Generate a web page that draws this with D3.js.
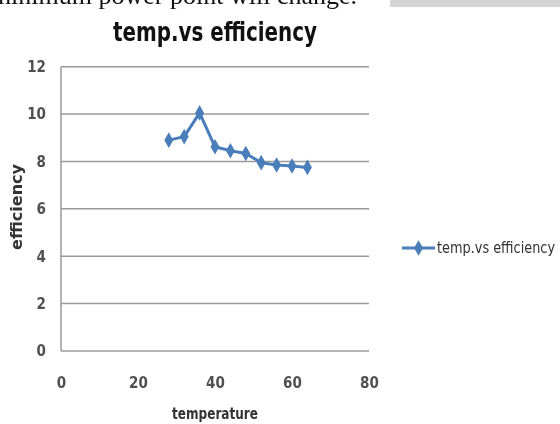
<!DOCTYPE html>
<html>
<head>
<meta charset="utf-8">
<script src="https://cdn.jsdelivr.net/npm/d3@7"></script>
<style>
  html, body { margin: 0; padding: 0; background: #fff; }
  svg { display: block; }
</style>
</head>
<body>
<svg id="chart" width="560" height="424"></svg>
<script>
// Temperature (°C) and efficiency (%) readings
const temperature = [28, 32, 36, 40, 44, 48, 52, 56, 60, 64];
const efficiency  = [8.9, 9.05, 10.05, 8.62, 8.45, 8.34, 7.95, 7.85, 7.81, 7.75];
const xTicks = [0, 20, 40, 60, 80];
const yTicks = [0, 2, 4, 6, 8, 10, 12];
const seriesName = "temp.vs efficiency";

const svg = d3.select("#chart");
const narrow = "'Liberation Sans Narrow', 'DejaVu Sans Condensed', 'Open Sans', sans-serif";

// Surrounding document text and toolbar strip
svg.append("rect").attr("x", 390).attr("y", 0).attr("width", 170).attr("height", 7).attr("fill", "#d4d4d4");
svg.append("text")
  .attr("x", 357).attr("y", 4)
  .attr("text-anchor", "end")
  .attr("font-family", "'Liberation Serif', 'DejaVu Serif', serif")
  .attr("font-size", 26)
  .attr("fill", "#111")
  .text("minimum power point will change.");

const x = d3.scaleLinear().domain([0, 80]).range([61, 369]);
const y = d3.scaleLinear().domain([0, 12]).range([351, 66.7]);

// Horizontal gridlines
svg.append("g")
  .selectAll("line")
  .data(yTicks)
  .join("line")
  .attr("x1", x(0)).attr("x2", x(80))
  .attr("y1", d => y(d)).attr("y2", d => y(d))
  .attr("stroke", "#9a9a9a").attr("stroke-width", 1.5);

// Y axis line
svg.append("line")
  .attr("x1", x(0)).attr("x2", x(0))
  .attr("y1", y(0)).attr("y2", y(12))
  .attr("stroke", "#9a9a9a").attr("stroke-width", 1.5);

// Y axis tick labels
const yAxis = d3.axisLeft(y).tickValues(yTicks).tickSize(0).tickPadding(15);
const gy = svg.append("g").attr("transform", `translate(${x(0)},0)`).call(yAxis);
gy.select(".domain").remove();
gy.selectAll("text")
  .attr("font-family", narrow).attr("font-size", 15).attr("font-weight", "bold").attr("fill", "#505050");

// X axis tick labels
const xAxis = d3.axisBottom(x).tickValues(xTicks).tickSize(0).tickPadding(26);
const gx = svg.append("g").attr("transform", `translate(0,${y(0)})`).call(xAxis);
gx.select(".domain").remove();
gx.selectAll("text")
  .attr("font-family", narrow).attr("font-size", 15).attr("font-weight", "bold").attr("fill", "#505050");

// Title
svg.append("text")
  .attr("x", 215).attr("y", 41)
  .attr("text-anchor", "middle")
  .attr("font-family", narrow).attr("font-size", 27).attr("font-weight", "bold").attr("fill", "#111")
  .attr("textLength", 204).attr("lengthAdjust", "spacingAndGlyphs")
  .text("temp.vs efficiency");

// Axis titles
svg.append("text")
  .attr("x", 215).attr("y", 419)
  .attr("text-anchor", "middle")
  .attr("font-family", narrow).attr("font-size", 15).attr("font-weight", "bold").attr("fill", "#333")
  .attr("textLength", 86).attr("lengthAdjust", "spacingAndGlyphs")
  .text("temperature");
svg.append("text")
  .attr("transform", "translate(22,207) rotate(-90)")
  .attr("text-anchor", "middle")
  .attr("font-family", narrow).attr("font-size", 15).attr("font-weight", "bold").attr("fill", "#333")
  .attr("textLength", 86).attr("lengthAdjust", "spacingAndGlyphs")
  .text("efficiency");

// Series line and diamond markers
const data = temperature.map((t, i) => ({ t, e: efficiency[i] }));
const blue = "#4a7ebb";
svg.append("path")
  .datum(data)
  .attr("fill", "none").attr("stroke", blue).attr("stroke-width", 3).attr("stroke-linejoin", "round")
  .attr("d", d3.line().x(d => x(d.t)).y(d => y(d.e)));
const diamond = d3.symbol().type(d3.symbolDiamond).size(70);
svg.append("g")
  .selectAll("path")
  .data(data)
  .join("path")
  .attr("transform", d => `translate(${x(d.t)},${y(d.e)})`)
  .attr("d", diamond)
  .attr("fill", blue);

// Legend
const lg = svg.append("g").attr("transform", "translate(402,248)");
lg.append("line").attr("x1", 0).attr("x2", 33).attr("y1", 0).attr("y2", 0)
  .attr("stroke", blue).attr("stroke-width", 3);
lg.append("path").attr("transform", "translate(16.5,0)").attr("d", diamond).attr("fill", blue);
lg.append("text")
  .attr("x", 35).attr("y", 5)
  .attr("font-family", narrow).attr("font-size", 15).attr("fill", "#333")
  .attr("textLength", 118).attr("lengthAdjust", "spacingAndGlyphs")
  .text(seriesName);

// Soft rendering
svg.attr("style", "filter: blur(0.5px)");
</script>
</body>
</html>
